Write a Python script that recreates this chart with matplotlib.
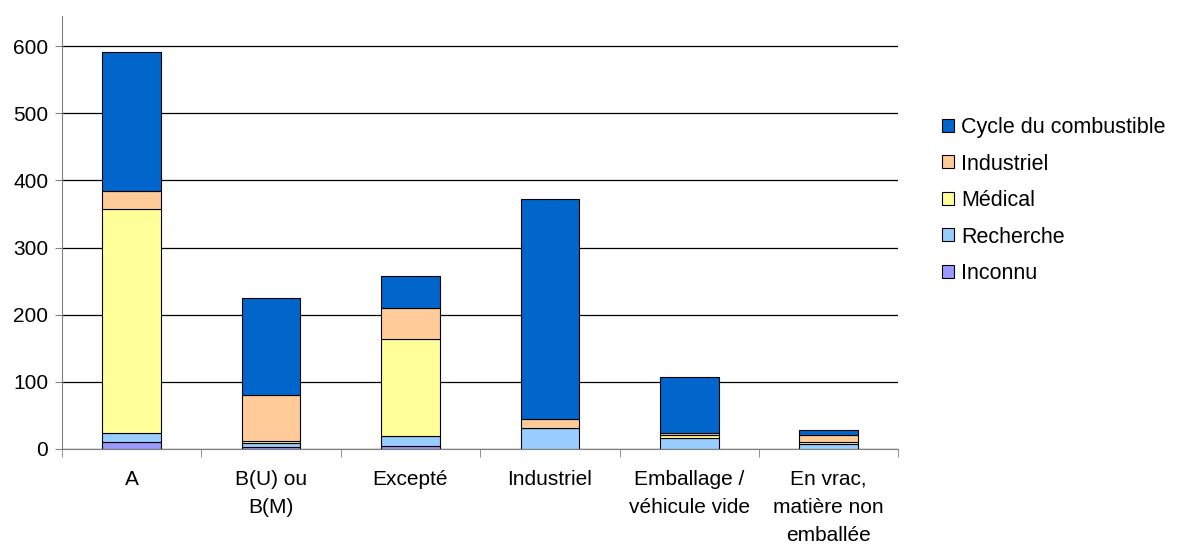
import numpy as np
import matplotlib.pyplot as plt

plt.rcParams['font.family'] = ['Liberation Sans', 'DejaVu Sans']

categories = ["A", "B(U) ou\nB(M)", "Excepté", "Industriel",
              "Emballage /\nvéhicule vide", "En vrac,\nmatière non\nemballée"]
series_names = ["Inconnu", "Recherche", "Médical", "Industriel", "Cycle du combustible"]
inconnu = [10, 3, 5, 0, 0, 0]
recherche = [14, 6, 14, 31, 16, 7]
medical = [333, 3, 145, 0, 5, 3]
industriel = [27, 69, 46, 13, 3, 11]
cycle = [208, 144, 47, 328, 83, 8]
colors = ["#9999FF", "#99CCFF", "#FFFF99", "#FFCC99", "#0066CC"]

fig = plt.figure(figsize=(11.82, 5.48), dpi=100)
ax = fig.add_axes([0.0525, 0.1807, 0.7075, 0.7901])

x = np.arange(len(categories))
bottom = np.zeros(len(categories))
handles = []
for name, vals, col in zip(series_names, [inconnu, recherche, medical, industriel, cycle], colors):
    b = ax.bar(x, vals, width=0.42, bottom=bottom, color=col, edgecolor='black',
               linewidth=0.8, label=name, zorder=3)
    handles.append(b)
    bottom += np.array(vals)

ax.set_xlim(-0.5, len(categories) - 0.5)
ax.set_ylim(0, 645)
ax.set_yticks(range(0, 700, 100))
ax.yaxis.grid(True, color='black', linewidth=0.9, zorder=0)
ax.set_xticks(x)
ax.set_xticklabels(categories, fontsize=15, linespacing=1.62)
ax.set_xticks(np.arange(len(categories) + 1) - 0.5, minor=True)
ax.tick_params(axis='x', which='major', length=0, pad=15)
ax.tick_params(axis='x', which='minor', length=6, color='#808080')
ax.tick_params(axis='y', length=5, color='#808080', labelsize=15, pad=5)
for s in ['top', 'right']:
    ax.spines[s].set_visible(False)
for s in ['left', 'bottom']:
    ax.spines[s].set_color('#808080')

leg = fig.legend(handles[::-1], series_names[::-1], loc='center left',
                 bbox_to_anchor=(0.797, 0.634), frameon=False, fontsize=15.5,
                 handlelength=0.55, handleheight=0.55, handletextpad=0.35,
                 labelspacing=0.72, borderpad=0, borderaxespad=0)

fig.savefig('out.png', dpi=100)
